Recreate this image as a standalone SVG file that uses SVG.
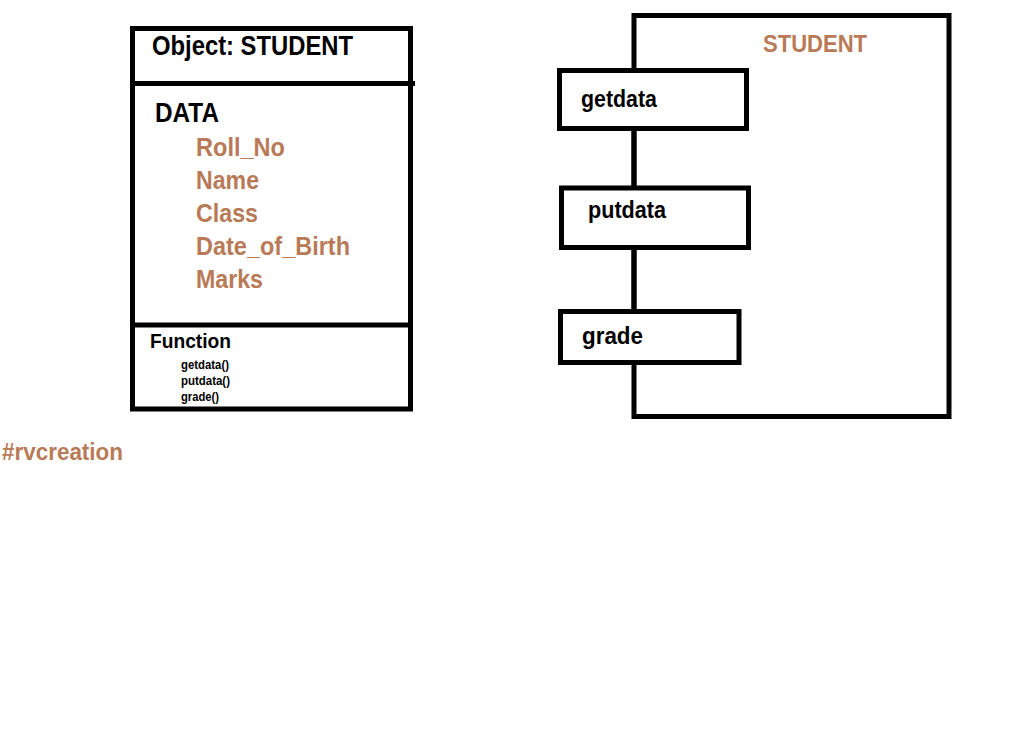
<svg xmlns="http://www.w3.org/2000/svg" width="1024" height="730" viewBox="0 0 1024 730">
<style>
.box{fill:#fff;stroke:#000;stroke-width:5}
.ln{stroke:#000;stroke-width:5;fill:none}
.t{font-family:"Liberation Sans",Arial,sans-serif;font-weight:bold;fill:#000}
.b{fill:#b97a57}
</style>
<rect width="1024" height="730" fill="#fff"/>
<g id="class-box">
<rect class="box" x="132.5" y="28.5" width="278" height="380.5"/>
<line class="ln" x1="132.5" y1="83.5" x2="415" y2="83.5"/>
<line class="ln" x1="132.5" y1="325" x2="410.5" y2="325"/>
<text class="t" x="152" y="55" font-size="27" textLength="201" lengthAdjust="spacingAndGlyphs">Object: STUDENT</text>
<text class="t" x="155" y="122" font-size="27" textLength="64" lengthAdjust="spacingAndGlyphs">DATA</text>
<text class="t b" x="196" y="156" font-size="26" textLength="89" lengthAdjust="spacingAndGlyphs">Roll_No</text>
<text class="t b" x="196" y="189" font-size="26" textLength="63" lengthAdjust="spacingAndGlyphs">Name</text>
<text class="t b" x="196" y="222" font-size="26" textLength="62" lengthAdjust="spacingAndGlyphs">Class</text>
<text class="t b" x="196" y="255" font-size="26" textLength="154" lengthAdjust="spacingAndGlyphs">Date_of_Birth</text>
<text class="t b" x="196" y="288" font-size="26" textLength="67" lengthAdjust="spacingAndGlyphs">Marks</text>
<text class="t" x="150" y="348" font-size="21" textLength="81" lengthAdjust="spacingAndGlyphs">Function</text>
<text class="t" x="181" y="369" font-size="13" textLength="48" lengthAdjust="spacingAndGlyphs">getdata()</text>
<text class="t" x="181" y="385" font-size="13" textLength="49" lengthAdjust="spacingAndGlyphs">putdata()</text>
<text class="t" x="181" y="401" font-size="13" textLength="38" lengthAdjust="spacingAndGlyphs">grade()</text>
</g>
<g id="student-frame">
<rect class="box" x="634" y="15.5" width="315" height="401"/>
<text class="t b" x="763" y="52" font-size="24" textLength="104" lengthAdjust="spacingAndGlyphs">STUDENT</text>
</g>
<g id="connectors">
<line class="ln" x1="634" y1="128" x2="634" y2="188"/>
<line class="ln" x1="634" y1="247.5" x2="634" y2="311.5"/>
</g>
<g id="getdata">
<rect class="box" x="559.5" y="70.5" width="187" height="58"/>
<text class="t" x="581" y="107" font-size="23" textLength="76" lengthAdjust="spacingAndGlyphs">getdata</text>
</g>
<g id="putdata">
<rect class="box" x="561.5" y="188" width="187" height="59.5"/>
<text class="t" x="588" y="218" font-size="23" textLength="78" lengthAdjust="spacingAndGlyphs">putdata</text>
</g>
<g id="grade">
<rect class="box" x="560.5" y="311.5" width="178.5" height="51"/>
<text class="t" x="582" y="344" font-size="23" textLength="61" lengthAdjust="spacingAndGlyphs">grade</text>
</g>
<text class="t b" x="2" y="460" font-size="23" textLength="121" lengthAdjust="spacingAndGlyphs">#rvcreation</text>
</svg>
